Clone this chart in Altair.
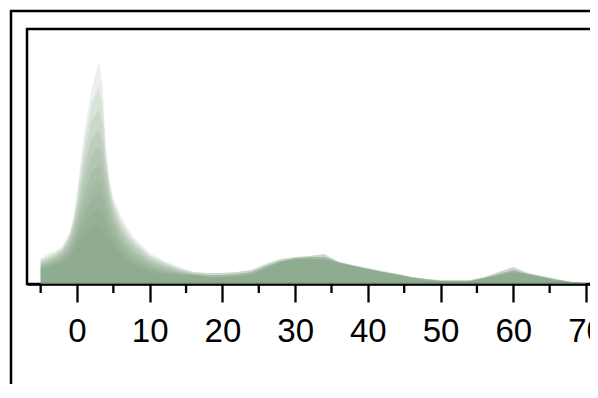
import altair as alt
import pandas as pd

# x positions of the spike part and the tail part of each density curve
x_spike = [-5, -4, -3, -2, -1, -0.5, 0, 1, 2, 3, 3.5, 4, 4.5, 5, 6, 7, 8, 10, 12, 14]
x_tail = [16, 18, 20, 22, 24, 26, 28, 30, 32, 34, 36, 38, 40, 42, 44, 46, 48,
          50, 52, 54, 56, 58, 60, 62, 64, 66, 68, 70]

# spike part of each overlapping density curve (lowest to tallest)
spike_1 = [15, 17, 19, 22, 28, 33, 40, 51, 58, 60, 57, 50, 44, 39, 30, 23, 18, 12, 10, 9]
spike_2 = [16, 18, 21, 24, 31, 37, 46, 60, 70, 75, 71, 62, 54, 46, 35, 27, 22, 15, 11, 10]
spike_3 = [17, 19, 22, 26, 34, 41, 51, 70, 84, 90, 85, 73, 62, 53, 40, 31, 25, 17, 13, 10]
spike_4 = [18, 21, 24, 28, 37, 45, 56, 80, 98, 105, 98, 83, 70, 59, 44, 35, 28, 19, 14, 11]
spike_5 = [19, 22, 25, 30, 40, 49, 62, 91, 112, 120, 112, 93, 77, 64, 48, 38, 31, 21, 16, 12]
spike_6 = [20, 23, 27, 32, 43, 54, 68, 103, 128, 138, 127, 103, 84, 69, 52, 41, 33, 23, 18, 13]
spike_7 = [22, 25, 28, 33, 46, 58, 74, 116, 145, 155, 142, 113, 90, 74, 56, 45, 37, 25, 19, 14]
spike_8 = [23, 26, 30, 35, 48, 61, 80, 128, 163, 175, 160, 122, 95, 78, 60, 48, 40, 27, 21, 15]
spike_9 = [24, 28, 31, 36, 50, 64, 86, 140, 180, 198, 180, 129, 99, 82, 64, 52, 42, 29, 22, 16]
spike_10 = [26, 30, 33, 38, 52, 66, 92, 152, 195, 222, 200, 135, 103, 86, 69, 55, 45, 31, 23, 17]
spikes = [spike_1, spike_2, spike_3, spike_4, spike_5,
          spike_6, spike_7, spike_8, spike_9, spike_10]

# tail part variants
tail_low = [9, 7, 7, 8, 10, 16, 22, 25, 25, 25, 21, 18, 15, 12, 9, 6, 4,
            3, 3, 3, 6, 9, 12, 10, 7, 4, 2, 0.5]
tail_mid = [10, 9, 9, 10, 12, 18, 23, 26, 27, 27, 22, 18, 15, 12, 10, 7, 5,
            3, 3, 3, 6, 10, 14, 10, 7, 4, 2, 0.5]
tail_high = [12, 11, 11, 12, 14, 20, 25, 27, 28, 30, 22, 19, 16, 13, 10, 7, 5,
             4, 4, 4, 7, 12, 17, 11, 8, 5, 2, 0.5]
tail_of_layer = [tail_low, tail_low, tail_low, tail_mid, tail_mid, tail_mid,
                 tail_mid, tail_high, tail_high, tail_high]

major_ticks = [0, 10, 20, 30, 40, 50, 60, 70]
minor_ticks = [-5, 5, 15, 25, 35, 45, 55, 65]

rows = []
for i, (sp, tl) in enumerate(zip(spikes, tail_of_layer)):
    for xv, hv in zip(x_spike + x_tail, sp + tl):
        rows.append({"x": xv, "h": hv, "layer": i})
df = pd.DataFrame(rows)

x_scale = alt.Scale(domain=[-6.877, 70.55], nice=False, zero=False)
x_axis = alt.Axis(values=major_ticks, labelFontSize=33, labelFont="Liberation Sans",
                  labelColor="black", tickColor="black", tickSize=18, tickWidth=2.3,
                  domainColor="black", domainWidth=2.5, grid=False, title=None,
                  labelPadding=39, labelBaseline="alphabetic", labelFlush=False,
                  labelOverlap=False, format="d")

area = alt.Chart(df).mark_area(color="#7a977a", opacity=0.15, interpolate="linear").encode(
    x=alt.X("x:Q", scale=x_scale, axis=x_axis),
    y=alt.Y("h:Q", stack=None, scale=alt.Scale(domain=[0, 255], nice=False, zero=True), axis=None),
    detail="layer:N",
)

minor = alt.Chart(pd.DataFrame({"x": minor_ticks})).mark_rule(color="black", strokeWidth=2.3).encode(
    x=alt.X("x:Q", scale=x_scale, axis=x_axis),
    y=alt.value(255),
    y2=alt.value(264),
)

frame = alt.Chart(alt.Data(values=[{"a": 1}])).mark_rect(
    filled=False, stroke="black", strokeWidth=2.5
).encode(
    x=alt.value(-16), x2=alt.value(900), y=alt.value(-18), y2=alt.value(700)
)

inner = alt.Chart(alt.Data(values=[{"a": 1}])).mark_rect(
    filled=False, stroke="black", strokeWidth=2.5
).encode(
    x=alt.value(0), x2=alt.value(900), y=alt.value(0), y2=alt.value(255)
)

chart = alt.layer(frame, inner, area, minor).properties(
    width=563, height=255,
    autosize=alt.AutoSizeParams(type="none"),
    padding={"left": 19, "top": 21, "right": 0, "bottom": 100},
).configure_view(stroke=None)

chart.save("out.html", embed_options={"renderer": "svg", "actions": False})
